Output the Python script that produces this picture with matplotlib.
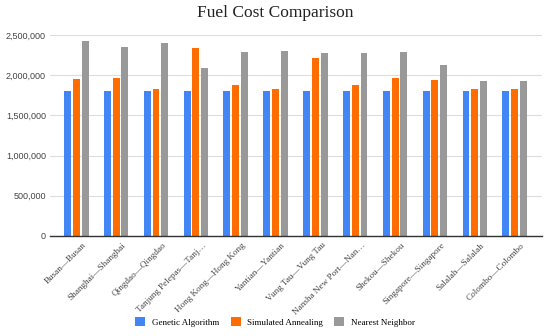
import matplotlib
matplotlib.use("Agg")
import matplotlib.pyplot as plt
import matplotlib.transforms as mtransforms
import numpy as np

categories = ["Busan—Busan", "Shanghai—Shanghai", "Qingdao—Qingdao", "Tanjung Pelepas—Tanj…",
              "Hong Kong—Hong Kong", "Yantian—Yantian", "Vung Tau—Vung Tau", "Nansha New Port—Nan…",
              "Shekou—Shekou", "Singapore—Singapore", "Salalah—Salalah", "Colombo—Colombo"]
genetic = [1810000] * 12
simulated = [1951000, 1964000, 1834000, 2345000, 1876000, 1834000, 2213000, 1876000,
             1971000, 1942000, 1834000, 1834000]
nearest = [2429000, 2354000, 2408000, 2092000, 2292000, 2300000, 2279000, 2279000,
           2288000, 2126000, 1930000, 1930000]
series_names = ["Genetic Algorithm", "Simulated Annealing", "Nearest Neighbor"]
yticks = [0, 500000, 1000000, 1500000, 2000000, 2500000]

colors = ["#4285F4", "#FF6D01", "#999999"]
serif = "Liberation Serif"
sans = "Liberation Sans"

fig = plt.figure(figsize=(5.5, 3.36), dpi=100)
ax = fig.add_axes([50/550, 1-235.7/336, (541.7-50)/550, (235.7-35.3)/336])

x = np.arange(len(categories))
w = 0.175
step = 0.22
for i, (vals, c, n) in enumerate(zip([genetic, simulated, nearest], colors, series_names)):
    ax.bar(x + (i-1)*step, vals, width=w, color=c, label=n, zorder=3)

ax.set_ylim(0, 2500000)
ax.set_xlim(-0.66, 11.68)
ax.set_yticks(yticks)
ax.set_yticklabels([f"{v:,}" for v in yticks], fontfamily=sans, fontsize=6.5, color="#444444")
ax.yaxis.grid(True, color="#dddddd", linewidth=0.8, zorder=0)
ax.tick_params(axis="y", length=0, pad=3)
ax.tick_params(axis="x", length=0, pad=4)
ax.set_xticks(x)
ax.set_xticklabels(categories, rotation=45, ha="right", rotation_mode="anchor",
                   fontfamily=serif, fontsize=6.6, color="#444444")
offset = mtransforms.ScaledTranslation(6/100, 0, fig.dpi_scale_trans)
for lbl in ax.get_xticklabels():
    lbl.set_transform(lbl.get_transform() + offset)
for s in ["top", "right", "left"]:
    ax.spines[s].set_visible(False)
ax.spines["bottom"].set_color("#333333")
ax.spines["bottom"].set_linewidth(1.0)
ax.spines["bottom"].set_zorder(4)

fig.text(0.5, 1-13/336, "Fuel Cost Comparison", ha="center", va="center",
         fontfamily=serif, fontsize=12.5, color="#222222")

handles, labels = ax.get_legend_handles_labels()
fig.legend(handles, labels, loc="center", bbox_to_anchor=(0.5, 1-322/336), ncol=3,
           frameon=False, prop={"family": serif, "size": 6.5},
           handlelength=1.1, handleheight=1.1, handletextpad=0.7, columnspacing=1.3)

fig.savefig("out.png", dpi=100)
